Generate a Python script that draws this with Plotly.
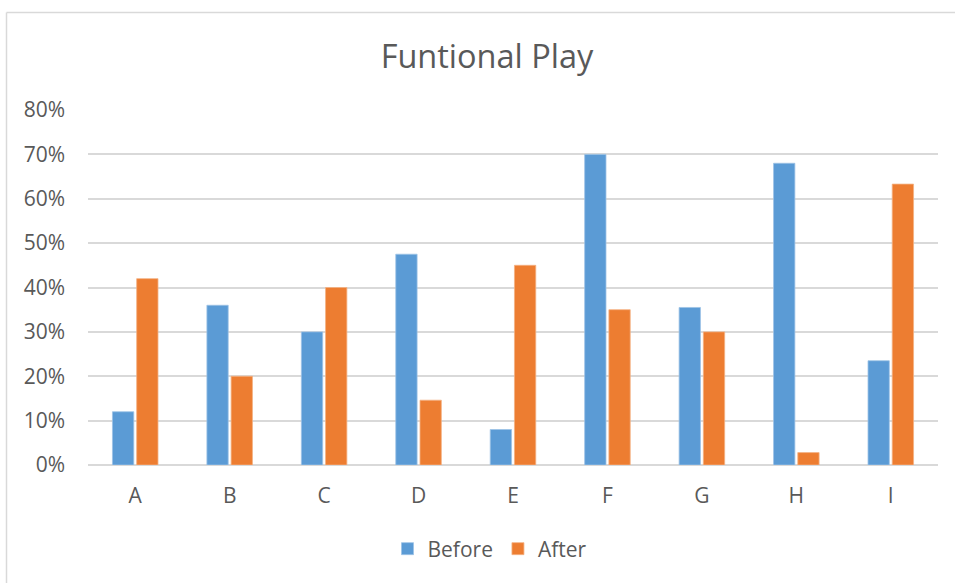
import plotly.graph_objects as go

categories = ["A", "B", "C", "D", "E", "F", "G", "H", "I"]
before = [0.12, 0.36, 0.30, 0.475, 0.08, 0.70, 0.355, 0.68, 0.235]
after = [0.42, 0.20, 0.40, 0.146, 0.45, 0.35, 0.30, 0.028, 0.633]

BLUE = "#5B9BD5"
ORANGE = "#ED7D31"
TEXT = "#595959"
FONT = "'Open Sans', 'Noto Sans', sans-serif"

W, H = 955, 583
L, R, T, B = 88, 17, 110, 118
pw, ph = W - L - R, H - T - B


def px_to_paper_x(x):
    return (x - L) / pw


def px_to_paper_y(y):
    return (H - B - y) / ph


fig = go.Figure()
fig.add_trace(go.Bar(
    name="Before", x=categories, y=before,
    marker=dict(color=BLUE, line=dict(color="#9DC3E6", width=0.8)),
))
fig.add_trace(go.Bar(
    name="After", x=categories, y=after,
    marker=dict(color=ORANGE, line=dict(color="#F4B183", width=0.8)),
))

# outer chart frame (top and left edges)
frame = dict(type="line", xref="paper", yref="paper",
             line=dict(color="#D9D9D9", width=1.5), layer="above")
fig.add_shape(**frame, x0=px_to_paper_x(6.5), x1=px_to_paper_x(960),
              y0=px_to_paper_y(12.5), y1=px_to_paper_y(12.5))
fig.add_shape(**frame, x0=px_to_paper_x(6.5), x1=px_to_paper_x(6.5),
              y0=px_to_paper_y(12.5), y1=px_to_paper_y(600))

fig.update_layout(
    width=W, height=H,
    margin=dict(l=L, r=R, t=T, b=B),
    paper_bgcolor="white", plot_bgcolor="white",
    barmode="group", bargap=0.487, bargroupgap=0.12,
    font=dict(family=FONT, color=TEXT, size=21),
    title=dict(text="Funtional Play", x=487 / W, xref="container",
               xanchor="center",
               y=1 - 57 / H, yanchor="middle",
               font=dict(size=32.5, color=TEXT, family=FONT)),
    legend=dict(orientation="h", x=px_to_paper_x(490), xanchor="center",
                y=px_to_paper_y(549), yanchor="middle",
                font=dict(size=21, color=TEXT, family=FONT),
                itemwidth=30, traceorder="normal"),
    showlegend=True,
)
fig.update_xaxes(showgrid=False, showline=False, ticks="",
                 tickfont=dict(size=21, color=TEXT), ticklabelstandoff=16)
fig.update_yaxes(range=[0, 0.8], dtick=0.1, tickformat=".0%",
                 showgrid=True, gridcolor="#D9D9D9", gridwidth=1.5,
                 zeroline=True, zerolinecolor="#D9D9D9", zerolinewidth=1.5,
                 showline=False, ticks="", ticklabelstandoff=22,
                 tickfont=dict(size=21, color=TEXT))

fig.write_html("out.html")
